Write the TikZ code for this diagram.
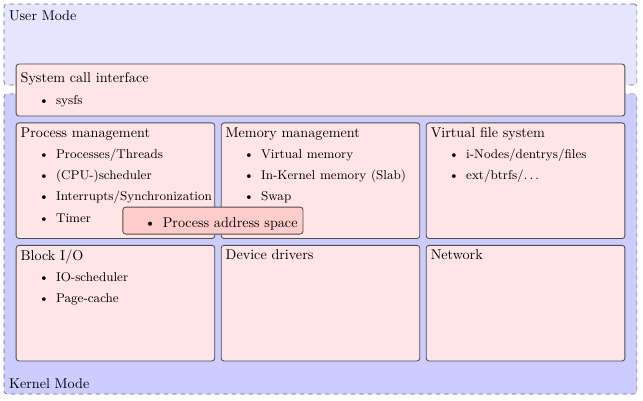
\documentclass[tikz,border=0pt]{standalone}
\usepackage{enumitem}
\usetikzlibrary{positioning}

\setlist[itemize]{nosep, itemsep=4pt, topsep=4pt}

\tikzset{
  mode/.style={draw=black!60, dashed, rounded corners=2pt, inner sep=0pt, outer sep=0pt},
  part/.style={draw=black!70, fill=red!10, semithick, rounded corners=2pt,
    inner sep=0pt, outer sep=0pt, minimum width=4.93cm, minimum height=2.87cm},
  parttext/.style={anchor=north west, text width=6cm, inner sep=3pt}
}

\begin{document}
\begin{tikzpicture}
    \useasboundingbox (0,0) rectangle (15.96,9.95);

    % user and kernel space
    \node[mode, fill=blue!10, anchor=north west, minimum width=15.71cm, minimum height=2.01cm] (user) at (0.10,9.85) {};
    \node[mode, fill=blue!20, anchor=south west, minimum width=15.71cm, minimum height=7.45cm] (kernel) at (0.10,0.17) {};
    \node[anchor=north west, yshift=-1pt] (usertext) at (user.north west) {User Mode};
    \node[anchor=south west] (kerneltext) at (kernel.south west) {Kernel Mode};

    % system call interface
    \node[part, anchor=north west, minimum width=15.11cm, minimum height=1.29cm] (syscall) at (0.40,8.36) {};
    \node[parttext, yshift=-3pt] (syscalltext) at (syscall.north west) {System call interface
      \small\begin{itemize}
        \item sysfs
      \end{itemize}};

    % subsystems
    \node[part, anchor=north west] (proc) at (0.40,6.90) {};
    \node[part, right=0.16cm of proc] (mem) {};
    \node[part, right=0.16cm of mem] (vfs) {};
    \node[part, below=0.17cm of proc] (blockio) {};
    \node[part, right=0.16cm of blockio] (drivers) {};
    \node[part, right=0.16cm of drivers] (net) {};

    \node[parttext] (proctext) at (proc.north west) {Process management
      \small\begin{itemize}
        \item Processes/Threads
        \item (CPU-)scheduler
        \item Interrupts/Synchronization
        \item Timer
      \end{itemize}};
    \node[parttext] (memtext) at (mem.north west) {Memory management
      \small\begin{itemize}
        \item Virtual memory
        \item In-Kernel memory (Slab)
        \item Swap
      \end{itemize}};
    \node[parttext] (vfstext) at (vfs.north west) {Virtual file system
      \small\begin{itemize}
        \item i-Nodes/dentrys/files
        \item ext/btrfs/$\dots$
      \end{itemize}};
    \node[parttext] (blockiotext) at (blockio.north west) {Block I/O
      \small\begin{itemize}
        \item IO-scheduler
        \item Page-cache
      \end{itemize}};
    \node[parttext] (driverstext) at (drivers.north west) {Device drivers};
    \node[parttext] (nettext) at (net.north west) {Network};

    % shared between process and memory management
    \node[part, fill=red!20, minimum width=4.47cm, minimum height=0.67cm] (addrspace) at (5.285,4.475) {};
    \node[anchor=west, text width=4.3cm, inner sep=0pt, xshift=3pt, yshift=2pt] (addrspacetext) at (addrspace.west) {%
      \begin{itemize}
        \item Process address space
      \end{itemize}};
\end{tikzpicture}
\end{document}
